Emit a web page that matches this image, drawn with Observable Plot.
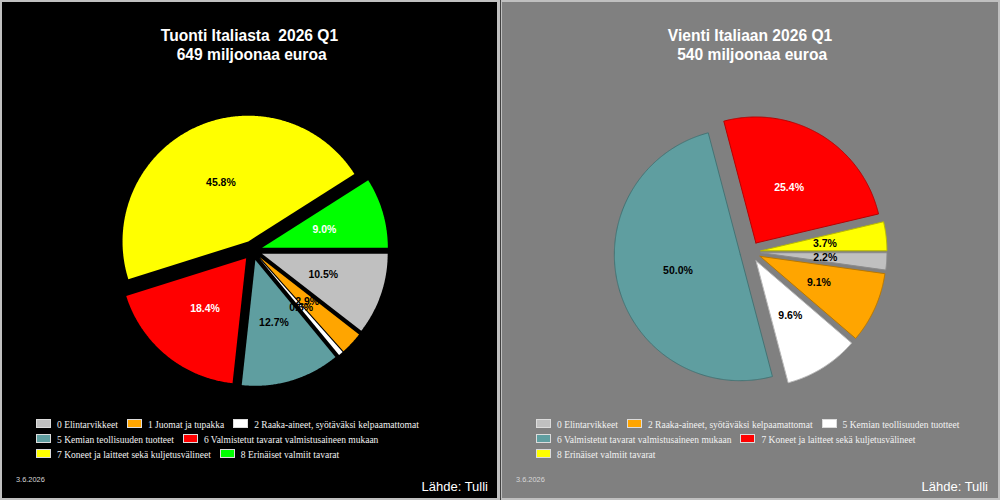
<!DOCTYPE html>
<html>
<head>
<meta charset="utf-8">
<script src="https://cdn.jsdelivr.net/npm/d3@7"></script>
<script src="https://cdn.jsdelivr.net/npm/@observablehq/plot@0.6"></script>
<style>
  html, body { margin: 0; padding: 0; width: 1000px; height: 500px; overflow: hidden; background: #c0c0c0; }
  .panel { position: absolute; top: 0; width: 500px; height: 500px; box-sizing: border-box; border: 2px solid #c0c0c0; overflow: hidden; }
  .title { position: absolute; left: 0; right: 0; top: 24px; text-align: center; white-space: pre;
           font: bold 15.6px "Liberation Sans", Arial, sans-serif; line-height: 19px; color: #ffffff; }
  .legend { position: absolute; left: 34px; top: 416px; width: 460px; display: flex; flex-wrap: wrap; column-gap: 9px; row-gap: 0; }
  .item { white-space: nowrap; line-height: 15px; font: 9.5px "Liberation Serif", "Times New Roman", serif; line-height: 15px; color: #f2f2f2; }
  .sw { display: inline-block; width: 15px; height: 9px; box-sizing: border-box; border: 1px solid #dcdcdc; margin-right: 6px; vertical-align: baseline; }
  .date { position: absolute; left: 14px; top: 474px; font: 7.4px "Liberation Sans", Arial, sans-serif; line-height: 1; color: #d8d8d8; }
  .source { position: absolute; top: 478px; font: 13px "Liberation Sans", Arial, sans-serif; line-height: 1; color: #ffffff; }
  .pie { position: absolute; left: 0; top: 0; }
</style>
</head>
<body>
<div id="left" class="panel" style="left:0; background:#000000; border-right-width:3px;"></div>
<div id="right" class="panel" style="left:500px; background:#808080;"></div>
<div style="position:absolute; left:500px; top:0; width:1px; height:500px; background:#404040;"></div>
<script>
// ---------------- data ----------------
const period = "2026 Q1";
const importCategories = [
  "0 Elintarvikkeet",
  "1 Juomat ja tupakka",
  "2 Raaka-aineet, syötäväksi kelpaamattomat",
  "5 Kemian teollisuuden tuotteet",
  "6 Valmistetut tavarat valmistusaineen mukaan",
  "7 Koneet ja laitteet sekä kuljetusvälineet",
  "8 Erinäiset valmiit tavarat"
];
const importShares = [10.5, 2.9, 0.6, 12.7, 18.4, 45.8, 9.0];
const importTotal = 649;

const exportCategories = [
  "0 Elintarvikkeet",
  "2 Raaka-aineet, syötäväksi kelpaamattomat",
  "5 Kemian teollisuuden tuotteet",
  "6 Valmistetut tavarat valmistusaineen mukaan",
  "7 Koneet ja laitteet sekä kuljetusvälineet",
  "8 Erinäiset valmiit tavarat"
];
const exportShares = [2.2, 9.1, 9.6, 50.0, 25.4, 3.7];
const exportTotal = 540;

const dateText = "3.6.2026";
const sourceText = "Lähde: Tulli";

// ---------------- styles ----------------
const palette = ["#c0c0c0", "#ffa500", "#ffffff", "#5f9ea0", "#ff0000", "#ffff00", "#00ff00"];
const labelInk = ["#000000", "#000000", "#000000", "#000000", "#ffffff", "#000000", "#ffffff"];

function drawPanel(el, cfg) {
  const rows = cfg.categories.map((c, i) => ({ category: c, share: cfg.shares[i], i }));
  const pie = d3.pie().sort(null).value(d => d.share)
    .startAngle(Math.PI / 2).endAngle(Math.PI / 2 + 2 * Math.PI);
  const arcs = pie(rows);
  const { cx, cy, r, explode, labelR } = cfg;
  const points = [];
  const labels = [];
  for (const a of arcs) {
    const mid = (a.startAngle + a.endAngle) / 2;
    const ox = cx + explode * Math.sin(mid);
    const oy = cy - explode * Math.cos(mid);
    const fill = palette[a.data.i];
    const stroke = cfg.outline ? d3.color(fill).darker(0.9).formatHex() : fill;
    const key = a.data.category;
    points.push({ key, x: ox, y: oy, fill, stroke });
    const n = Math.max(2, Math.ceil((a.endAngle - a.startAngle) / (Math.PI / 360)));
    for (let k = 0; k <= n; k++) {
      const t = a.startAngle + (a.endAngle - a.startAngle) * k / n;
      points.push({ key, x: ox + r * Math.sin(t), y: oy - r * Math.cos(t), fill, stroke });
    }
    points.push({ key, x: ox, y: oy, fill, stroke });
    labels.push({
      x: cx + labelR * Math.sin(mid),
      y: cy - labelR * Math.cos(mid),
      text: a.data.share.toFixed(1) + "%",
      ink: labelInk[a.data.i]
    });
  }
  const W = 496, H = 410;
  const chart = Plot.plot({
    width: W, height: H, margin: 0,
    x: { domain: [0, W], range: [0, W], axis: null },
    y: { domain: [0, H], range: [0, H], axis: null },
    color: { type: "identity" },
    style: { background: "transparent", overflow: "visible" },
    marks: [
      Plot.line(points, { x: "x", y: "y", z: "key", fill: "fill", stroke: cfg.outline ? "stroke" : "none", strokeWidth: 1, strokeLinejoin: "miter" }),
      Plot.text(labels, { x: "x", y: "y", text: "text", fill: "ink", fontSize: 10.5, fontWeight: "bold",
        fontFamily: "'Liberation Sans', Arial, sans-serif", textAnchor: "middle" })
    ]
  });
  chart.classList.add("pie");
  el.appendChild(chart);

  const title = document.createElement("div");
  title.className = "title";
  title.textContent = cfg.title;
  el.appendChild(title);

  const legend = document.createElement("div");
  legend.className = "legend";
  rows.forEach(d => {
    const item = document.createElement("div");
    item.className = "item";
    const sw = document.createElement("span");
    sw.className = "sw";
    sw.style.background = palette[d.i];
    item.appendChild(sw);
    item.appendChild(document.createTextNode(d.category));
    legend.appendChild(item);
  });
  el.appendChild(legend);

  const date = document.createElement("div");
  date.className = "date";
  date.textContent = dateText;
  el.appendChild(date);

  const src = document.createElement("div");
  src.className = "source";
  src.style.right = cfg.sourceRight + "px";
  src.textContent = sourceText;
  el.appendChild(src);
}

drawPanel(document.getElementById("left"), {
  title: "Tuonti Italiasta  " + period + "\n " + importTotal + " miljoonaa euroa",
  categories: importCategories, shares: importShares,
  cx: 250.5, cy: 248.5, r: 126, explode: 10, labelR: 75, outline: false, sourceRight: 9
});
drawPanel(document.getElementById("right"), {
  title: "Vienti Italiaan " + period + "\n " + exportTotal + " miljoonaa euroa",
  categories: exportCategories, shares: exportShares,
  cx: 248, cy: 249.5, r: 126, explode: 10.5, labelR: 75, outline: true, sourceRight: 10
});
</script>
</body>
</html>
